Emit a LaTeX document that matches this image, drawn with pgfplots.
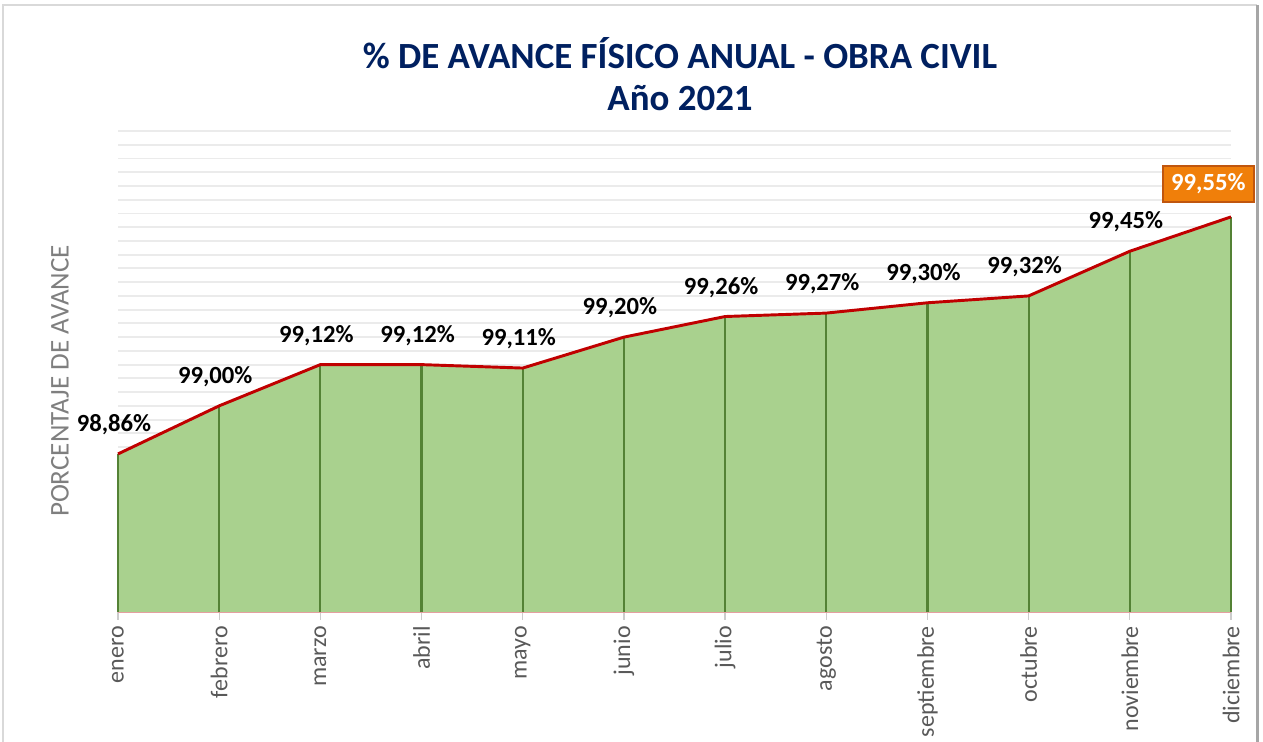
\documentclass[border=0pt]{standalone}
\usepackage{pgfplots}
\pgfplotsset{compat=1.18}
\usepackage{pgfplotstable}
\usepackage{fontspec}
\setmainfont{Carlito}
\definecolor{titleblue}{HTML}{002060}
\definecolor{areagreen}{HTML}{A9D18E}
\definecolor{dropgreen}{HTML}{548235}
\definecolor{linered}{HTML}{C00000}
\definecolor{boxorange}{HTML}{F07F0A}
\definecolor{boxborder}{HTML}{C0560E}
\definecolor{tickgray}{HTML}{595959}
\definecolor{labgray}{HTML}{7F7F7F}
\definecolor{gridgray}{HTML}{EBEBEB}
\definecolor{pinkline}{HTML}{E4A0A0}

\pgfplotstableread{
x y e
0 98.86 0.46
1 99.00 0.60
2 99.12 0.72
3 99.12 0.72
4 99.11 0.71
5 99.20 0.80
6 99.26 0.86
7 99.27 0.87
8 99.30 0.90
9 99.32 0.92
10 99.45 1.05
11 99.55 1.15
}\datatable

\begin{document}
\begin{tikzpicture}
\useasboundingbox (0,0) rectangle (947.25pt,556.5pt);
\clip (0,0) rectangle (947.25pt,556.5pt);
\begin{axis}[
  at={(88.5pt,97.5pt)}, anchor=south west,
  scale only axis, width=834.75pt, height=360.75pt,
  xmin=0, xmax=11, ymin=98.4, ymax=99.8,
  axis lines*=left,
  axis line style={-},
  y axis line style={draw=none},
  x axis line style={draw=pinkline, line width=0.9pt},
  ytick={98.44,98.48,...,99.81},
  yticklabels={},
  ytick style={draw=none},
  ymajorgrids,
  grid style={draw=gridgray, line width=1.4pt},
  xtick={0,...,11},
  xticklabels={enero,febrero,marzo,abril,mayo,junio,julio,agosto,septiembre,octubre,noviembre,diciembre},
  xtick align=outside,
  xtick style={draw=black!20, line width=1pt},
  major tick length=6pt,
  xticklabel style={rotate=90, anchor=east, text=tickgray, font=\fontsize{18}{21}\selectfont, inner xsep=4.5pt, inner ysep=1pt},
  clip=false,
]
\addplot[fill=areagreen, draw=none, forget plot] table[x=x,y=y]{\datatable} \closedcycle;
\addplot[draw=none, mark=none, forget plot,
  error bars/.cd, y dir=minus, y explicit,
  error bar style={draw=dropgreen, line width=1.6pt}, error mark=none]
  table[x=x,y=y,y error=e]{\datatable};
\addplot[draw=linered, line width=2.2pt, line join=round, mark=none] table[x=x,y=y]{\datatable};
\addplot[draw=none, mark=none, point meta=y,
  skip coords between index={11}{12},
  nodes near coords={\pgfmathprintnumber[assume math mode=true, use comma, fixed, fixed zerofill, precision=2]{\pgfplotspointmeta}\%},
  every node near coord/.append style={anchor=center, yshift=22pt, xshift=-3pt, text=black, font=\bfseries\fontsize{18.5}{21}\selectfont}]
  table[x=x,y=y]{\datatable};
\addplot[draw=none, mark=none, point meta=y,
  skip coords between index={0}{11},
  nodes near coords={\pgfmathprintnumber[assume math mode=true, use comma, fixed, fixed zerofill, precision=2]{\pgfplotspointmeta}\%},
  every node near coord/.append style={anchor=center, yshift=25pt, xshift=-17pt, text=white, fill=boxorange, draw=boxborder, line width=1.5pt, inner xsep=6pt, minimum height=27pt, font=\bfseries\fontsize{18.5}{21}\selectfont}]
  table[x=x,y=y]{\datatable};
\end{axis}
\node[text=titleblue, font=\bfseries\fontsize{27.7}{32}\selectfont] at (510pt,516.75pt) {\% DE AVANCE FÍSICO ANUAL - OBRA CIVIL};
\node[text=titleblue, font=\bfseries\fontsize{27.7}{32}\selectfont] at (510pt,483pt) {Año 2021};
\node[rotate=90, text=labgray, font=\fontsize{20.3}{24}\selectfont] at (45pt,270.75pt) {PORCENTAJE DE AVANCE};
\draw[draw=black!15, line width=1.5pt] (2.5pt,-5pt) |- (942.75pt,552.75pt);
\draw[draw=black!35, line width=2.2pt] (943pt,552.75pt) -- (943pt,-5pt);
\end{tikzpicture}
\end{document}
